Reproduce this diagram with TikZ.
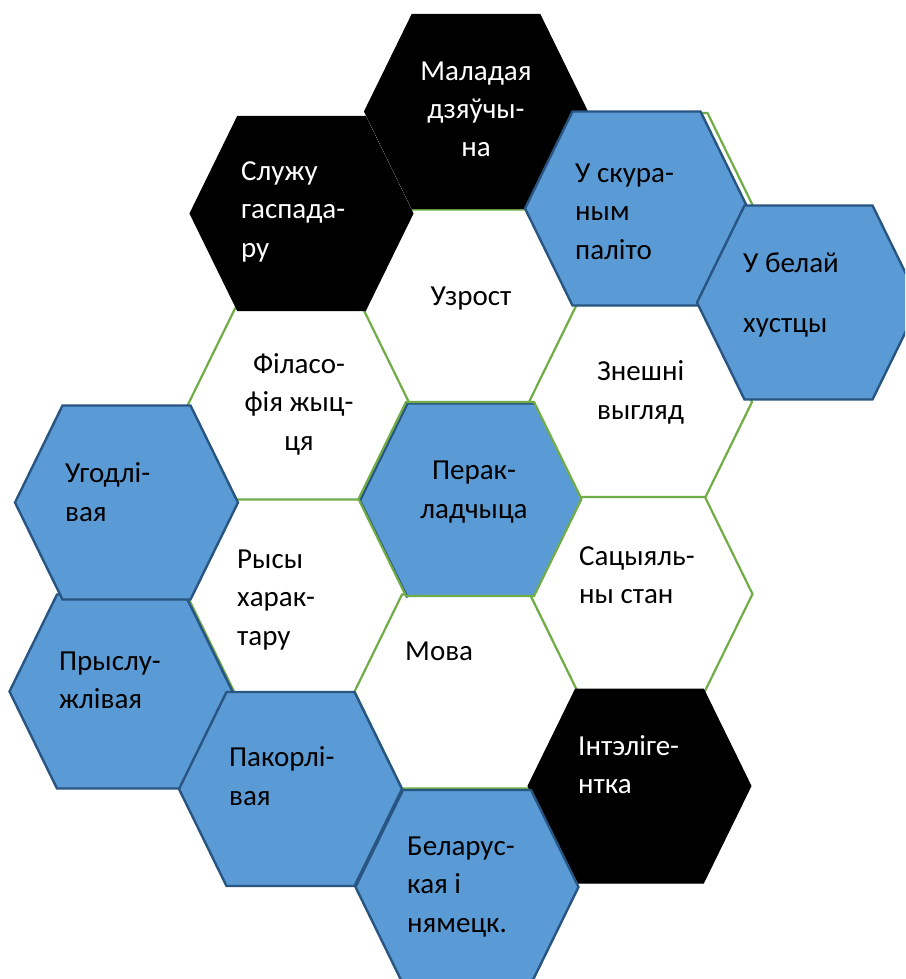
\documentclass[tikz,border=0pt]{standalone}
\usepackage{fontspec}
\setmainfont{Carlito}
\definecolor{hexblue}{HTML}{5B9BD5}
\definecolor{hexedge}{RGB}{40,85,130}
\definecolor{hexgreen}{HTML}{70AD47}
\newcommand{\hexagon}[3]{%
  \path[#1, shift={(#2,#3)}] (-111.5,0) -- (-64,-97) -- (64,-97) -- (111.5,0) -- (64,97) -- (-64,97) -- cycle;}
\begin{document}
\begin{tikzpicture}[x=1pt,y=-1pt,
  whitehex/.style={fill=white, draw=hexgreen, line width=2.2pt, line join=miter},
  bluehex/.style={fill=hexblue, draw=hexedge, line width=2.4pt, line join=miter},
  blackhex/.style={fill=black, draw=black, line width=1pt},
  lbl/.style={inner sep=0pt, font=\fontsize{29}{38.5}\selectfont, text=black},
  lblw/.style={lbl, text=white},
  lefttext/.style={anchor=base west, align=left},
  midtext/.style={anchor=base, align=center}]
\useasboundingbox (0,0) rectangle (905,979);
\clip (0,0) rectangle (905,979);
% white (green outlined) cells
\hexagon{whitehex}{643.5}{210}
\hexagon{whitehex}{470}{306.5}
\hexagon{whitehex}{299}{405.5}
\hexagon{whitehex}{640.5}{402}
\hexagon{whitehex}{299}{596.5}
\hexagon{whitehex}{641}{594}
\hexagon{whitehex}{466}{691.5}
% central blue cell with green rim
\hexagon{fill=hexblue}{470}{499}
\path[draw=hexedge, line width=2.4pt, shift={(471.5,500.5)}] (64,-97) -- (-64,-97) -- (-111.5,0) -- (-64,97);
\hexagon{draw=hexgreen, line width=2.2pt, line join=miter}{470}{499}
% black cells
\hexagon{blackhex}{476}{111.5}
\hexagon{blackhex}{301.5}{213.5}
\hexagon{blackhex}{639.5}{786}
% blue cells
\hexagon{bluehex}{636.5}{208.5}
\hexagon{bluehex}{808.5}{302.5}
\hexagon{bluehex}{121}{691.5}
\hexagon{bluehex}{126.5}{502.5}
\hexagon{bluehex}{290.5}{789}
\hexagon{bluehex}{467}{887}
% labels (anchored at the baseline of the last line)
\node[lblw, midtext] (malad) at (476,157) {Маладая\\дзяўчы-\\на};
\node[lblw, lefttext] (sluzhu) at (241,257) {Служу\\гаспада-\\ру};
\node[lbl, midtext] (uzrost) at (471,305) {Узрост};
\node[lbl, lefttext] (skura) at (575,259) {У скура-\\ным\\паліто};
\node[lbl, lefttext] (belaj) at (743,332) {У белай\\[21pt]хустцы};
\node[lbl, lefttext] (znesh) at (597,419) {Знешні\\выгляд};
\node[lbl, midtext] (filas) at (299,450) {Філасо-\\фія жыц-\\ця};
\node[lbl, lefttext] (ugod) at (65,521) {Угодлі-\\вая};
\node[lbl, lefttext] (rysy) at (237,645) {Рысы\\харак-\\тару};
\node[lbl, midtext] (perak) at (474,518) {Перак-\\ладчыца};
\node[lbl, lefttext] (sacy) at (579,603.5) {Сацыяль-\\ны стан};
\node[lbl, lefttext] (mova) at (405,660) {Мова};
\node[lbl, lefttext] (prysl) at (59,708.5) {Прыслу-\\жлівая};
\node[lbl, lefttext] (pakor) at (229,805) {Пакорлі-\\вая};
\node[lblw, lefttext] (intel) at (578,793.5) {Інтэліге-\\нтка};
\node[lbl, lefttext] (belar) at (407,932) {Беларус-\\кая і\\нямецк.};
\end{tikzpicture}
\end{document}
